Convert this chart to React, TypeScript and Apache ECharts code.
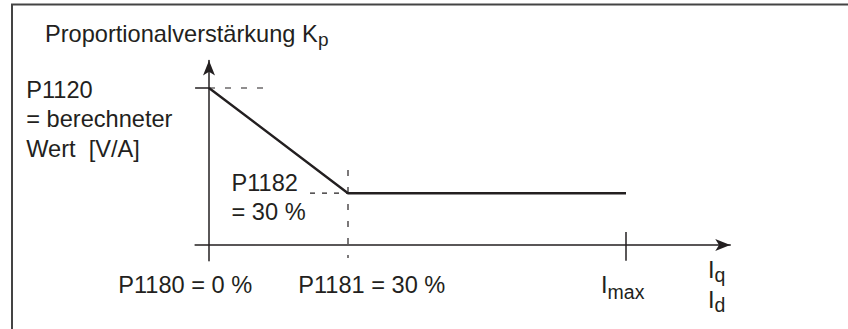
import React, { useEffect, useRef } from "react";
import * as echarts from "echarts";

// Schematic values: x = current in % of rated, y = proportional gain in % of P1120
const gainCurve: [number, number][] = [
  [0, 100],
  [30, 33],
  [90, 33],
];
const p1120Tick: [number, number][] = [
  [-3, 100],
  [0, 100],
];
const p1120Guide: [number, number][] = [
  [0, 100],
  [12.7, 100],
];
const p1182Guide: [number, number][] = [
  [21.8, 33],
  [30, 33],
];
const p1181Guide: [number, number][] = [
  [30, 47.8],
  [30, -8.3],
];
const imaxTick: [number, number][] = [
  [90, 8.3],
  [90, -10],
];
const xRange = [-3, 112.5];
const yRange = [-10, 117.5];

const yTitle = "Proportionalverstärkung K";
const yTitleSub = "p";
const p1120Label = "P1120\n= berechneter\nWert  [V/A]";
const p1182Label = "P1182\n= 30 %";
const p1180Label = "P1180 = 0 %";
const p1181Label = "P1181 = 30 %";

const INK = "#231f20";
const FONT = "'Liberation Sans', Arial, Helvetica, sans-serif";

export default function App() {
  const ref = useRef<HTMLDivElement>(null);
  useEffect(() => {
    if (!ref.current) return;
    const chart = echarts.init(ref.current, undefined, { renderer: "svg" });
    const lineSeries = (data: [number, number][], width: number, dashed?: number[]) => ({
      type: "line",
      data,
      symbol: "none",
      silent: true,
      lineStyle: { color: INK, width, type: dashed ? dashed : "solid" },
    });
    const txt = (text: string, x: number, y: number, size: number, extra: any = {}) => ({
      type: "text",
      x,
      y,
      silent: true,
      style: {
        text,
        fill: INK,
        font: `${size}px ${FONT}`,
        fontSize: size,
        fontFamily: FONT,
        align: "left",
        verticalAlign: "middle",
        ...extra,
      },
    });
    chart.setOption({
      animation: false,
      backgroundColor: "#ffffff",
      grid: {
        left: 195.1,
        top: 60.5,
        width: 535.15,
        height: 200.2,
        containLabel: false,
        outerBoundsMode: "none",
      },
      xAxis: {
        type: "value",
        min: xRange[0],
        max: xRange[1],
        axisLine: {
          onZero: true,
          symbol: ["none", "arrow"],
          symbolSize: [9, 15],
          lineStyle: { color: INK, width: 1.5 },
        },
        axisTick: { show: false },
        axisLabel: { show: false },
        splitLine: { show: false },
      },
      yAxis: {
        type: "value",
        min: yRange[0],
        max: yRange[1],
        axisLine: {
          onZero: true,
          symbol: ["none", "arrow"],
          symbolSize: [9, 15],
          lineStyle: { color: INK, width: 1.5 },
        },
        axisTick: { show: false },
        axisLabel: { show: false },
        splitLine: { show: false },
      },
      series: [
        lineSeries(p1120Tick, 1.5),
        lineSeries(p1120Guide, 1.2, [6, 10]),
        lineSeries(p1182Guide, 1.2, [5, 7]),
        lineSeries(p1181Guide, 1.2, [6, 11]),
        lineSeries(imaxTick, 1.5),
        lineSeries(gainCurve, 2.4),
      ],
      graphic: [
        {
          type: "rect",
          silent: true,
          shape: { x: 12, y: 4.5, width: 1000, height: 500 },
          style: { fill: "none", stroke: "#444444", lineWidth: 2 },
        },
        txt(yTitle, 45, 33.5, 23.6),
        txt(yTitleSub, 318, 39.1, 19),
        txt(p1120Label, 26.2, 75.4, 23.6, { verticalAlign: "top", lineHeight: 29.4 }),
        txt(p1182Label, 231.5, 169.3, 23.6, { verticalAlign: "top", lineHeight: 28.3 }),
        txt(p1180Label, 118.2, 284.8, 23.6),
        txt(p1181Label, 298.2, 284.8, 23.6),
        txt("I", 601, 284.8, 23.6),
        txt("max", 607.6, 291.7, 19.5),
        txt("I", 708, 270.1, 23.6),
        txt("q", 714.6, 275.4, 19.5),
        txt("I", 708, 300.1, 23.6),
        txt("d", 714.6, 305.4, 19.5),
      ],
    });
    return () => chart.dispose();
  }, []);
  return (
    <div
      ref={ref}
      style={{ position: "absolute", left: 0, top: 0, width: 848, height: 329 }}
    />
  );
}
